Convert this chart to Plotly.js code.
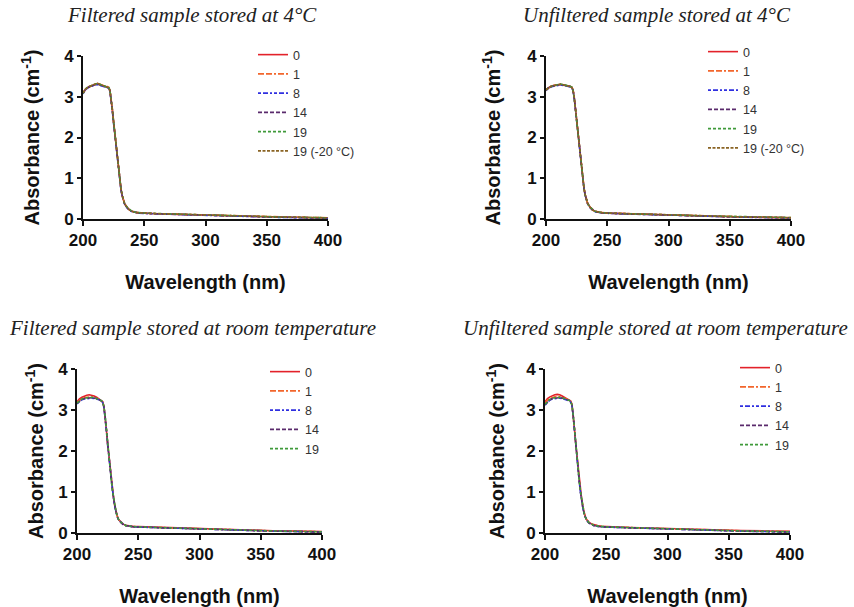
<!DOCTYPE html>
<html>
<head>
<meta charset="utf-8">
<script src="https://cdn.plot.ly/plotly-3.0.1.min.js"></script>
<style>html,body{margin:0;padding:0;background:#fff;}#chart{width:854px;height:607px;}</style>
</head>
<body>
<div id="chart"></div>
<script>
// Wavelength grid (nm)
const wavelength = [200,202,204,206,208,210,212,214,216,218,220,221,222,223,224,225,226,227,228,229,230,231,232,233,234,236,238,240,243,246,250,260,270,280,290,300,320,340,360,380,400];

// Panel titles
const panelTitles = ["Filtered sample stored at 4°C", "Unfiltered sample stored at 4°C",
                     "Filtered sample stored at room temperature", "Unfiltered sample stored at room temperature"];

// Series labels (days)
const labels4C = ["0","1","8","14","19","19 (-20 °C)"];
const labelsRT = ["0","1","8","14","19"];

// Filtered, 4 °C
const filt4_d0   = [3.08,3.18,3.23,3.26,3.28,3.30,3.32,3.29,3.27,3.26,3.24,3.22,3.14,2.95,2.66,2.36,2.06,1.76,1.47,1.19,0.94,0.73,0.57,0.45,0.37,0.28,0.22,0.19,0.16,0.15,0.14,0.13,0.12,0.115,0.105,0.10,0.08,0.06,0.045,0.035,0.025];
const filt4_d1   = [3.10,3.19,3.24,3.27,3.29,3.31,3.33,3.30,3.28,3.26,3.25,3.23,3.16,2.98,2.69,2.39,2.09,1.79,1.49,1.21,0.96,0.75,0.58,0.46,0.38,0.29,0.22,0.19,0.165,0.15,0.14,0.135,0.125,0.115,0.11,0.10,0.085,0.065,0.05,0.04,0.03];
const filt4_d8   = [3.07,3.17,3.22,3.25,3.27,3.29,3.30,3.28,3.26,3.25,3.23,3.21,3.13,2.93,2.64,2.34,2.04,1.74,1.45,1.17,0.92,0.71,0.56,0.44,0.36,0.27,0.21,0.18,0.155,0.145,0.135,0.125,0.115,0.11,0.10,0.095,0.075,0.055,0.04,0.03,0.02];
const filt4_d14  = [3.09,3.18,3.23,3.26,3.28,3.30,3.31,3.29,3.27,3.25,3.24,3.22,3.15,2.96,2.67,2.37,2.07,1.77,1.48,1.20,0.95,0.74,0.57,0.45,0.37,0.28,0.22,0.19,0.16,0.15,0.14,0.13,0.12,0.11,0.105,0.10,0.08,0.06,0.045,0.035,0.025];
const filt4_d19  = [3.08,3.19,3.24,3.27,3.29,3.31,3.32,3.30,3.28,3.26,3.25,3.23,3.16,2.97,2.68,2.38,2.08,1.78,1.49,1.21,0.96,0.74,0.58,0.46,0.38,0.29,0.23,0.19,0.165,0.155,0.145,0.135,0.125,0.115,0.11,0.10,0.085,0.065,0.05,0.04,0.03];
const filt4_d19f = [3.09,3.18,3.23,3.27,3.29,3.31,3.33,3.30,3.28,3.26,3.24,3.22,3.15,2.97,2.68,2.38,2.08,1.78,1.48,1.20,0.95,0.74,0.58,0.46,0.37,0.28,0.22,0.19,0.16,0.15,0.14,0.13,0.125,0.115,0.11,0.10,0.08,0.065,0.05,0.04,0.03];

// Unfiltered, 4 °C
const unf4_d0   = [3.17,3.22,3.25,3.27,3.28,3.29,3.30,3.29,3.28,3.27,3.25,3.23,3.17,3.00,2.72,2.42,2.12,1.82,1.52,1.23,0.97,0.76,0.59,0.47,0.38,0.29,0.22,0.19,0.165,0.155,0.145,0.135,0.125,0.12,0.11,0.10,0.085,0.065,0.05,0.04,0.03];
const unf4_d1   = [3.18,3.23,3.26,3.28,3.29,3.30,3.30,3.29,3.28,3.26,3.25,3.23,3.18,3.01,2.73,2.43,2.13,1.83,1.53,1.24,0.98,0.77,0.60,0.47,0.38,0.29,0.23,0.19,0.165,0.155,0.145,0.135,0.125,0.12,0.11,0.10,0.085,0.07,0.055,0.045,0.035];
const unf4_d8   = [3.15,3.21,3.24,3.26,3.27,3.28,3.29,3.28,3.27,3.26,3.24,3.22,3.16,2.98,2.70,2.40,2.10,1.80,1.50,1.21,0.95,0.74,0.58,0.46,0.37,0.28,0.22,0.18,0.16,0.15,0.14,0.13,0.12,0.11,0.10,0.095,0.075,0.06,0.045,0.035,0.025];
const unf4_d14  = [3.16,3.22,3.25,3.27,3.28,3.29,3.30,3.29,3.28,3.26,3.25,3.23,3.17,2.99,2.71,2.41,2.11,1.81,1.51,1.22,0.96,0.75,0.59,0.46,0.38,0.28,0.22,0.19,0.16,0.15,0.14,0.13,0.12,0.115,0.105,0.10,0.08,0.06,0.05,0.04,0.03];
const unf4_d19  = [3.17,3.22,3.25,3.27,3.29,3.30,3.31,3.30,3.28,3.27,3.25,3.24,3.18,3.00,2.72,2.42,2.12,1.82,1.52,1.23,0.97,0.76,0.59,0.47,0.38,0.29,0.23,0.19,0.165,0.155,0.145,0.135,0.13,0.12,0.11,0.105,0.085,0.07,0.055,0.045,0.035];
const unf4_d19f = [3.16,3.22,3.25,3.27,3.28,3.30,3.31,3.29,3.28,3.26,3.25,3.23,3.17,3.00,2.72,2.42,2.12,1.81,1.51,1.22,0.96,0.75,0.59,0.47,0.38,0.29,0.22,0.19,0.165,0.155,0.145,0.135,0.125,0.12,0.11,0.10,0.085,0.065,0.05,0.04,0.03];

// Filtered, room temperature
const filtRT_d0  = [3.20,3.27,3.31,3.34,3.36,3.37,3.36,3.34,3.31,3.27,3.24,3.20,3.09,2.86,2.52,2.18,1.88,1.58,1.30,1.04,0.82,0.64,0.50,0.40,0.33,0.26,0.21,0.19,0.17,0.16,0.155,0.145,0.135,0.125,0.115,0.105,0.09,0.07,0.055,0.045,0.035];
const filtRT_d1  = [3.18,3.24,3.28,3.30,3.31,3.32,3.32,3.31,3.29,3.26,3.23,3.19,3.08,2.85,2.51,2.17,1.87,1.57,1.29,1.03,0.81,0.63,0.50,0.40,0.33,0.25,0.21,0.18,0.165,0.155,0.15,0.14,0.13,0.12,0.11,0.10,0.085,0.065,0.05,0.04,0.03];
const filtRT_d8  = [3.15,3.21,3.25,3.27,3.28,3.29,3.29,3.28,3.27,3.25,3.22,3.18,3.06,2.83,2.49,2.15,1.85,1.55,1.27,1.01,0.79,0.62,0.49,0.39,0.32,0.25,0.20,0.18,0.16,0.15,0.145,0.135,0.125,0.115,0.105,0.095,0.08,0.06,0.045,0.035,0.025];
const filtRT_d14 = [3.16,3.22,3.26,3.28,3.29,3.30,3.30,3.29,3.28,3.25,3.22,3.18,3.07,2.84,2.50,2.16,1.86,1.56,1.28,1.02,0.80,0.62,0.49,0.39,0.32,0.25,0.20,0.18,0.16,0.15,0.145,0.135,0.125,0.115,0.105,0.095,0.08,0.06,0.045,0.035,0.025];
const filtRT_d19 = [3.17,3.23,3.27,3.29,3.30,3.31,3.31,3.30,3.28,3.26,3.23,3.19,3.08,2.85,2.51,2.17,1.87,1.57,1.29,1.03,0.81,0.63,0.50,0.40,0.33,0.26,0.21,0.18,0.165,0.155,0.15,0.14,0.13,0.12,0.11,0.10,0.085,0.065,0.05,0.04,0.03];

// Unfiltered, room temperature
const unfRT_d0  = [3.20,3.28,3.32,3.35,3.37,3.38,3.37,3.34,3.31,3.28,3.25,3.22,3.14,2.90,2.55,2.20,1.88,1.57,1.28,1.02,0.80,0.62,0.49,0.39,0.33,0.26,0.22,0.20,0.18,0.165,0.155,0.145,0.135,0.125,0.115,0.105,0.09,0.075,0.06,0.05,0.04];
const unfRT_d1  = [3.16,3.24,3.28,3.31,3.32,3.33,3.33,3.31,3.29,3.27,3.24,3.21,3.13,2.89,2.54,2.19,1.87,1.56,1.27,1.01,0.79,0.61,0.48,0.38,0.32,0.25,0.21,0.19,0.17,0.16,0.15,0.14,0.13,0.12,0.11,0.10,0.085,0.07,0.055,0.045,0.035];
const unfRT_d8  = [3.12,3.19,3.24,3.27,3.28,3.29,3.29,3.28,3.26,3.24,3.22,3.19,3.11,2.86,2.51,2.16,1.84,1.53,1.24,0.98,0.76,0.59,0.46,0.37,0.31,0.24,0.20,0.18,0.16,0.15,0.145,0.135,0.125,0.115,0.105,0.095,0.08,0.06,0.045,0.035,0.025];
const unfRT_d14 = [3.13,3.20,3.25,3.28,3.29,3.30,3.30,3.29,3.27,3.25,3.23,3.20,3.12,2.87,2.52,2.17,1.85,1.54,1.25,0.99,0.77,0.60,0.47,0.37,0.31,0.24,0.20,0.18,0.16,0.15,0.145,0.135,0.125,0.115,0.105,0.095,0.08,0.06,0.045,0.035,0.025];
const unfRT_d19 = [3.14,3.21,3.26,3.29,3.30,3.31,3.31,3.30,3.28,3.26,3.23,3.20,3.12,2.88,2.53,2.18,1.86,1.55,1.26,1.00,0.78,0.60,0.47,0.38,0.32,0.25,0.21,0.19,0.17,0.155,0.15,0.14,0.13,0.12,0.11,0.10,0.085,0.065,0.05,0.04,0.03];

// Axis ticks
const xTicks = [200,250,300,350,400];
const yTicks = [0,1,2,3,4];

// Line styles per series position
const seriesColors = ['#e3222a','#f2662c','#2f2fe0','#5a2a6c','#3f9a3a','#8a6424'];
const seriesDash   = ['solid','6px,2px,6px,2px,2px,2px','3px,2px,5px,2px,2px,2px','4px,2px','3px,2px','3px,1.5px'];

const panels = [
  {series:[filt4_d0,filt4_d1,filt4_d8,filt4_d14,filt4_d19,filt4_d19f], labels:labels4C},
  {series:[unf4_d0,unf4_d1,unf4_d8,unf4_d14,unf4_d19,unf4_d19f], labels:labels4C},
  {series:[filtRT_d0,filtRT_d1,filtRT_d8,filtRT_d14,filtRT_d19], labels:labelsRT},
  {series:[unfRT_d0,unfRT_d1,unfRT_d8,unfRT_d14,unfRT_d19], labels:labelsRT}
];

const traces = [];
panels.forEach((p, pi) => {
  const sfx = pi === 0 ? '' : String(pi + 1);
  p.series.forEach((vals, si) => {
    traces.push({
      type:'scatter', mode:'lines', x: wavelength, y: vals,
      name: p.labels[si],
      xaxis:'x' + sfx, yaxis:'y' + sfx,
      legend: 'legend' + sfx,
      line:{color: seriesColors[si], width:1.6, dash: seriesDash[si]},
      hoverinfo:'skip'
    });
  });
});

const W = 854, H = 607;
// plot rectangles in pixels [x0, x1, ytop, ybottom]
const rects = [[83,328,56,219],[546,791,56,219],[77,322,369,533],[545,790,369,533]];
const yStandoff = [19,21,9,16];

const tickFont = {family:'Liberation Sans, Arial, sans-serif', size:17, color:'#111', weight:'bold'};
const titleFont = {family:'Liberation Sans, Arial, sans-serif', size:20, color:'#111', weight:'bold'};

const layout = {
  width: W, height: H,
  margin:{l:0,r:0,t:0,b:0},
  paper_bgcolor:'#fff', plot_bgcolor:'#fff',
  showlegend:true,
  annotations:[],
  font:{family:'Liberation Sans, Arial, sans-serif'}
};

const legendPos = [[253,40],[703,37],[265,357],[735,353]];
const titlePos = [[192,15],[657,15],[192,328],[655,328]];

rects.forEach((r, i) => {
  const sfx = i === 0 ? '' : String(i + 1);
  layout['xaxis' + sfx] = {
    domain:[r[0]/W, r[1]/W], anchor:'y' + sfx, range:[200,400],
    tickvals:xTicks, ticks:'outside', ticklen:5, tickwidth:2, tickcolor:'#111',
    showline:true, linecolor:'#111', linewidth:2, showgrid:false, zeroline:false,
    tickfont:tickFont, automargin:false,
    title:{text:'Wavelength (nm)', font:titleFont, standoff:26}
  };
  layout['yaxis' + sfx] = {
    domain:[1 - r[3]/H, 1 - r[2]/H], anchor:'x' + sfx, range:[0,4],
    tickvals:yTicks, ticks:'outside', ticklen:4, tickwidth:2, tickcolor:'#111',
    showline:true, linecolor:'#111', linewidth:2, showgrid:false, zeroline:false,
    tickfont:tickFont, automargin:false,
    title:{text:'Absorbance (cm<sup>-1</sup>)', font:titleFont, standoff:yStandoff[i]}
  };
  layout['legend' + sfx] = {
    x: legendPos[i][0]/W, y: 1 - legendPos[i][1]/H, xanchor:'left', yanchor:'top',
    bgcolor:'rgba(0,0,0,0)', borderwidth:0, tracegroupgap:0,
    font:{family:'Liberation Sans, Arial, sans-serif', size:12.5, color:'#333'}
  };
  layout.annotations.push({
    text: panelTitles[i], xref:'paper', yref:'paper',
    x: titlePos[i][0]/W, y: 1 - titlePos[i][1]/H, xanchor:'center', yanchor:'middle',
    showarrow:false,
    font:{family:'Liberation Serif, Times New Roman, serif', size:21, color:'#222', style:'italic'}
  });
});

Plotly.newPlot('chart', traces, layout, {displayModeBar:false, staticPlot:true});
</script>
</body>
</html>
